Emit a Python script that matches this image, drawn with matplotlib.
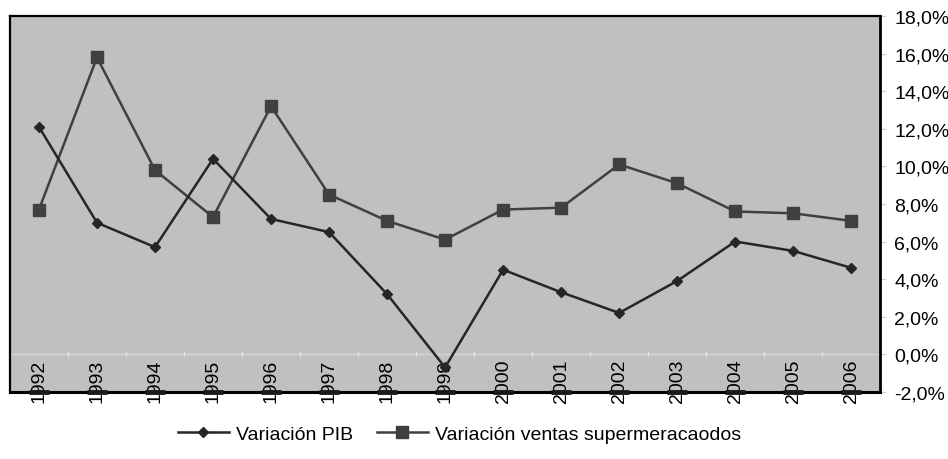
import matplotlib
matplotlib.use("Agg")
from matplotlib import pyplot as plt
from matplotlib.ticker import FuncFormatter

plt.rcParams['font.family'] = ['Liberation Sans Narrow', 'Liberation Sans', 'DejaVu Sans']

years = ['1992', '1993', '1994', '1995', '1996', '1997', '1998', '1999',
         '2000', '2001', '2002', '2003', '2004', '2005', '2006']
pib = [12.1, 7.0, 5.7, 10.4, 7.2, 6.5, 3.2, -0.7, 4.5, 3.3, 2.2, 3.9, 6.0, 5.5, 4.6]
supermercados = [7.7, 15.8, 9.8, 7.3, 13.2, 8.5, 7.1, 6.1, 7.7, 7.8, 10.1, 9.1, 7.6, 7.5, 7.1]

fig = plt.figure(figsize=(9.48, 4.6), dpi=100)
ax = fig.add_axes([0.0105, 0.146, 0.918, 0.817])
ax.set_facecolor('#c0c0c0')

x = list(range(len(years)))
ax.axhline(0, color='#d6d6d6', lw=1, zorder=1)
# marquitas entre categorias sobre la linea del cero
for i in x[:-1]:
    ax.plot([i + 0.5, i + 0.5], [-0.1, 0.1], color='#e4e4e4', lw=1, zorder=1)

l1, = ax.plot(x, pib, color='#262626', marker='D', markersize=5, lw=1.8, zorder=3)
l2, = ax.plot(x, supermercados, color='#404040', marker='s', markersize=8, lw=1.8, zorder=2)

# manchitas negras sobre el eje inferior (como en el original)
ax.plot(x, [0] * len(x), transform=ax.get_xaxis_transform(), ls='none', marker='_',
        markersize=14, mew=3.5, color='#1a1a1a', clip_on=False, zorder=4)

ax.set_xlim(-0.5, len(years) - 0.5)
ax.set_ylim(-2, 18)
ax.set_yticks(range(-2, 19, 2))
ax.yaxis.tick_right()
ax.yaxis.set_major_formatter(FuncFormatter(lambda v, p: ('%.1f%%' % v).replace('.', ',')))
ax.tick_params(axis='y', labelsize=14, length=4, color='#cfcfcf', pad=6, labelcolor='black')

ax.set_xticks(x)
ax.set_xticklabels(years, rotation=90, fontsize=14)
ax.tick_params(axis='x', length=0, pad=-24)
for lbl in ax.get_xticklabels():
    lbl.set_zorder(5)

for s in ax.spines.values():
    s.set_color('black')
    s.set_linewidth(1.6)
ax.spines['bottom'].set_linewidth(2.2)
ax.spines['right'].set_linewidth(2)

fig.legend([l1, l2], ['Variación PIB', 'Variación ventas supermeracaodos'],
           loc='center', bbox_to_anchor=(0.485, 0.055), ncol=2, frameon=False,
           fontsize=14, handlelength=2.6, columnspacing=1.2, handletextpad=0.4)

plt.savefig('out.png', dpi=100)
